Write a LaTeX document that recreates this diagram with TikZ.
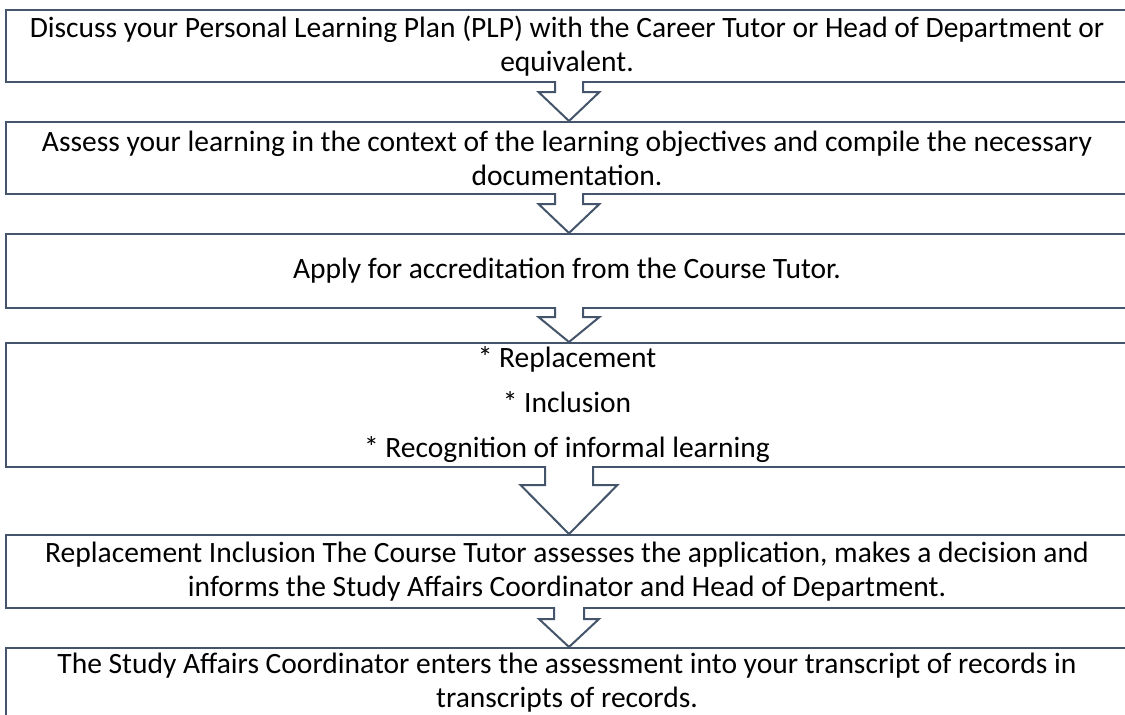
\documentclass[tikz,border=0pt]{standalone}
\usepackage{fontspec}
\setmainfont{Carlito}
\usetikzlibrary{calc}
\definecolor{boxline}{HTML}{44546A}
\tikzset{
  stepbox/.style={draw=boxline, line width=2pt, fill=white, inner sep=0pt,
    minimum width=1122pt, align=center,
    font=\fontsize{29.5}{34}\selectfont},
  flowarrow/.style={draw=boxline, line width=2pt, fill=white}
}
% block arrow from one box down to the next: from, to, shaft half, head half, head depth
\newcommand{\stepdown}[5]{%
  \draw[flowarrow] let \p1=($(#1.south)+(2,0)$), \p2=($(#2.north)+(2,0)$) in
    (\x1-#3,\y1+2) -- (\x1-#3,\y2+#5) -- (\x1-#4,\y2+#5) -- (\x2,\y2)
    -- (\x1+#4,\y2+#5) -- (\x1+#3,\y2+#5) -- (\x1+#3,\y1+2);}
\begin{document}
\begin{tikzpicture}[x=1pt,y=-1pt]
\useasboundingbox (0,0) rectangle (1125,715);
\node[stepbox, minimum height=72pt] (plp) at (567,46)
  {Discuss your Personal Learning Plan (PLP) with the Career Tutor or Head of Department or\\ equivalent.};
\node[stepbox, minimum height=72pt] (assess) at (567,158)
  {Assess your learning in the context of the learning objectives and compile the necessary\\ documentation.};
\node[stepbox, minimum height=74pt] (apply) at (567,271)
  {Apply for accreditation from the Course Tutor.};
\node[stepbox, minimum height=124pt] (kinds) at (567,405)
  {* Replacement\\[11pt] * Inclusion\\[11pt] * Recognition of informal learning};
\node[stepbox, minimum height=73pt] (decide) at (567,571.5)
  {Replacement Inclusion The Course Tutor assesses the application, makes a decision and\\ informs the Study Affairs Coordinator and Head of Department.};
\node[stepbox, minimum height=70pt] (enter) at (567,683)
  {The Study Affairs Coordinator enters the assessment into your transcript of records in\\ transcripts of records.};
% arrows between the steps
\stepdown{plp}{assess}{14}{30.5}{29}
\stepdown{assess}{apply}{14}{30.5}{29}
\stepdown{apply}{kinds}{14}{30.5}{25}
\stepdown{kinds}{decide}{24}{48.5}{49}
\stepdown{decide}{enter}{15}{30}{28}
\end{tikzpicture}
\end{document}
